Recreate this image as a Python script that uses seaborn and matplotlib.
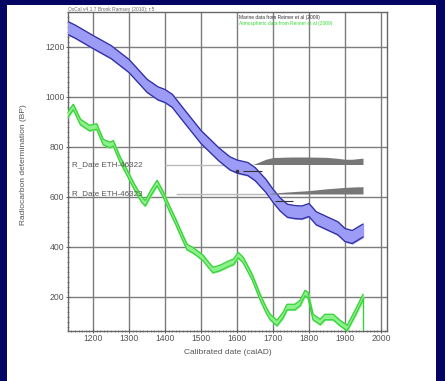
import numpy as np
import pandas as pd
import seaborn as sns
import matplotlib
matplotlib.use("Agg")
import matplotlib.pyplot as plt
from matplotlib.patches import Rectangle
from matplotlib.ticker import MultipleLocator

# Marine calibration curve (calAD vs radiocarbon BP), centre and 1-sigma half width
marine_date = [1130, 1150, 1200, 1250, 1300, 1350, 1380, 1400, 1420, 1450, 1500,
               1550, 1580, 1600, 1630, 1650, 1680, 1700, 1720, 1740, 1760, 1780,
               1800, 1820, 1850, 1880, 1900, 1920, 1950]
marine_bp = [1276, 1262, 1220, 1180, 1124, 1045, 1015, 1004, 985, 930, 840,
             770, 735, 722, 712, 692, 645, 605, 570, 545, 540, 538,
             548, 515, 495, 475, 448, 440, 466]
marine_err = 26

# Atmospheric calibration curve
atmos_date = [1130, 1145, 1165, 1190, 1210, 1228, 1247, 1256, 1275, 1295, 1315,
              1335, 1345, 1360, 1378, 1395, 1414, 1430, 1442, 1461, 1480, 1506,
              1520, 1533, 1550, 1561, 1581, 1590, 1603, 1617, 1642, 1664, 1680,
              1692, 1711, 1728, 1739, 1761, 1775, 1789, 1797, 1811, 1831, 1844,
              1867, 1886, 1906, 1928, 1950]
atmos_bp = [930, 960, 900, 876, 882, 820, 808, 815, 750, 696, 640,
            590, 575, 615, 656, 610, 548, 500, 460, 400, 385, 356,
            330, 308, 315, 322, 336, 340, 368, 348, 280, 200, 150,
            120, 96, 128, 160, 160, 176, 216, 208, 120, 100, 120,
            120, 96, 76, 136, 200]
atmos_err = 11

# Radiocarbon determinations
date_names = ["R_Date ETH-46322", "R_Date ETH-46323"]
date_bp = [730, 612]

# Calibrated probability (relative) for each determination
prob1_date = [1644, 1660, 1680, 1700, 1750, 1800, 1850, 1880, 1900, 1920, 1940, 1950]
prob1 = [0.0, 0.3, 0.7, 0.93, 1.0, 1.0, 0.95, 0.82, 0.7, 0.7, 0.8, 0.85]
prob2_date = [1692, 1720, 1750, 1800, 1850, 1900, 1930, 1950]
prob2 = [0.1, 0.2, 0.3, 0.45, 0.7, 0.88, 0.95, 0.97]

# Calibrated ranges (start, end) for each determination
range_start = [1617, 1706]
range_end = [1669, 1756]
range_bp = [704, 584]

x_ticks = [1200, 1300, 1400, 1500, 1600, 1700, 1800, 1900, 2000]
y_ticks = [200, 400, 600, 800, 1000, 1200]

sns.set_theme(style="white")
plt.rcParams["font.family"] = ["Liberation Sans", "DejaVu Sans"]

fig = plt.figure(figsize=(4.45, 3.81), dpi=100)
fig.patch.set_facecolor("#040462")
fig.patches.append(Rectangle((7 / 445, 0), 429 / 445, 1 - 5 / 381,
                             transform=fig.transFigure, facecolor="white",
                             edgecolor="none", zorder=-5))

ax = fig.add_axes([68 / 445, 1 - 331 / 381, 319 / 445, 319 / 381])
ax.set_zorder(2)
ax.set_facecolor("white")
ax.set_xlim(1130.5, 2016.7)
ax.set_ylim(64, 1340)

ax.set_xticks(x_ticks)
ax.set_yticks(y_ticks)
ax.xaxis.set_minor_locator(MultipleLocator(10))
ax.yaxis.set_minor_locator(MultipleLocator(20))
ax.grid(True, which="major", color="#7d7d7d", linewidth=1.0)
ax.tick_params(axis="both", which="major", labelsize=6.2, labelcolor="#555555",
               length=3, width=0.7, direction="inout", color="#555555", pad=1,
               left=True, bottom=True)
ax.tick_params(axis="both", which="minor", length=2, width=0.5,
               direction="inout", color="#666666", left=True, bottom=True)
for side in ["left", "bottom", "right", "top"]:
    ax.spines[side].set_color("#666666")
    ax.spines[side].set_linewidth(1.0)

# Marine curve band
mar = pd.DataFrame({"date": marine_date, "bp": marine_bp})
mar["lo"] = mar["bp"] - marine_err
mar["hi"] = mar["bp"] + marine_err
ax.fill_between(mar["date"], mar["lo"], mar["hi"], color="#9c9cf6", zorder=3)
sns.lineplot(data=mar, x="date", y="hi", ax=ax, color="#2e2ea0", linewidth=0.9, zorder=4)
sns.lineplot(data=mar, x="date", y="lo", ax=ax, color="#2e2ea0", linewidth=0.9, zorder=4)

# Atmospheric curve band
atm = pd.DataFrame({"date": atmos_date, "bp": atmos_bp})
atm["lo"] = atm["bp"] - atmos_err
atm["hi"] = atm["bp"] + atmos_err
ax.fill_between(atm["date"], atm["lo"], atm["hi"], color="#8cf08c", zorder=3)
sns.lineplot(data=atm, x="date", y="hi", ax=ax, color="#38d238", linewidth=0.9, zorder=4)
sns.lineplot(data=atm, x="date", y="lo", ax=ax, color="#38d238", linewidth=0.9, zorder=4)
ax.vlines(atmos_date[-1], ax.get_ylim()[0], atmos_bp[-1], color="#38d238",
          linewidth=1.0, zorder=4)

# Determinations: label, level line, calibrated distribution and range
prob_dates = [prob1_date, prob2_date]
probs = [prob1, prob2]
label_ends = [1400, 1430]
for i, name in enumerate(date_names):
    bp = date_bp[i]
    ax.text(1141, bp, name, fontsize=5.8, color="#555555", va="center", ha="left",
            zorder=6)
    ax.hlines(bp, label_ends[i], prob_dates[i][0], color="#bbbbbb", linewidth=1.0,
              zorder=2)
    top = np.array(probs[i]) * 30 + bp
    ax.fill_between(prob_dates[i], bp, top, color="#777777", linewidth=0, zorder=5)
    ax.hlines(range_bp[i], range_start[i], range_end[i], color="#333333",
              linewidth=0.8, zorder=6)
ax.plot([1600], [range_bp[0]], marker="o", markersize=1.5, color="#333333", zorder=6)

ax.set_xlabel("Calibrated date (calAD)", fontsize=6, color="#555555")
ax.set_ylabel("Radiocarbon determination (BP)", fontsize=6, color="#555555")
ax.xaxis.set_label_coords(0.5, -0.056)
ax.yaxis.set_label_coords(-0.128, 0.52)

fig.text(68 / 445, 1 - 12 / 381, "OxCal v4.1.7 Bronk Ramsey (2010); r:5",
         fontsize=3.5, color="#666666", ha="left", va="bottom")
fig.text(239 / 445, 1 - 18 / 381, "Marine data from Reimer et al (2009)",
         fontsize=3.5, color="#333333", ha="left", va="center")
fig.text(239 / 445, 1 - 23 / 381, "Atmospheric data from Reimer et al (2009)",
         fontsize=3.5, color="#33dd33", ha="left", va="center")

fig.savefig("out.png", dpi=100, facecolor=fig.get_facecolor())
